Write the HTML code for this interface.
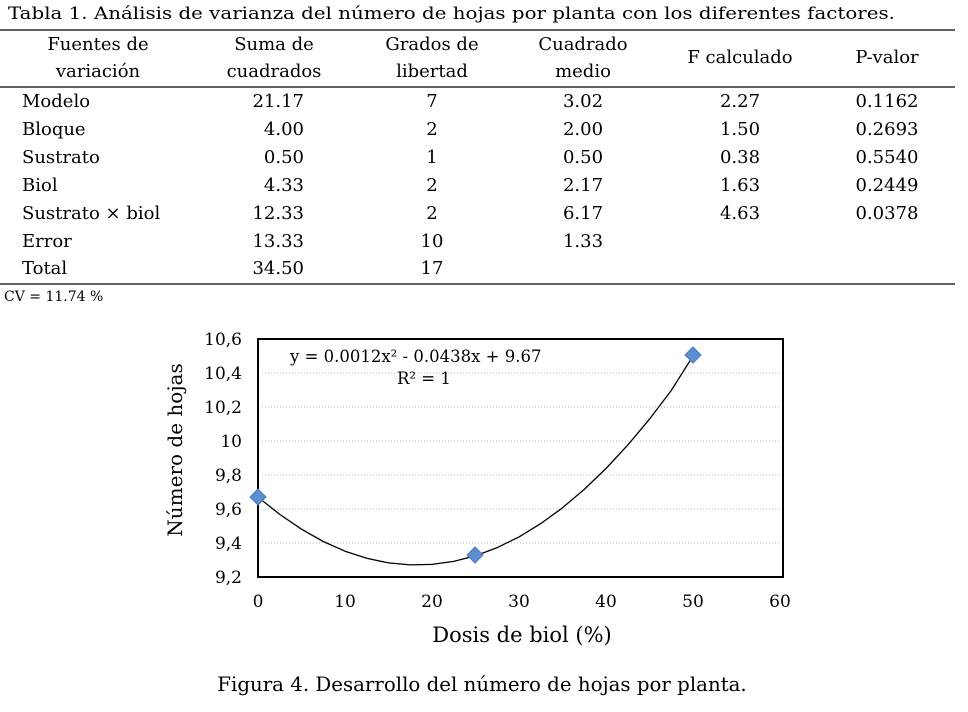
<!DOCTYPE html>
<html><head><meta charset="utf-8"><style>
html,body{margin:0;padding:0;background:#fff;}
svg text{font-family:"DejaVu Serif","Liberation Serif",serif;fill:#000;}
</style></head><body>
<svg width="968" height="707" viewBox="0 0 968 707" xmlns="http://www.w3.org/2000/svg">
<text x="8" y="19" font-size="17" textLength="887" lengthAdjust="spacingAndGlyphs">Tabla 1. Análisis de varianza del número de hojas por planta con los diferentes factores.</text>
<line x1="0" y1="30" x2="955" y2="30" stroke="#000" stroke-width="1.3"/>
<line x1="0" y1="87" x2="955" y2="87" stroke="#000" stroke-width="1.3"/>
<line x1="0" y1="284" x2="955" y2="284" stroke="#000" stroke-width="1.3"/>
<g font-size="18" text-anchor="middle">
<text x="98" y="50">Fuentes de</text><text x="98" y="77">variación</text>
<text x="274" y="50">Suma de</text><text x="274" y="77">cuadrados</text>
<text x="432" y="50">Grados de</text><text x="432" y="77">libertad</text>
<text x="583" y="50">Cuadrado</text><text x="583" y="77">medio</text>
<text x="740" y="63">F calculado</text>
<text x="887" y="63">P-valor</text>
</g>
<g font-size="18">
<text x="22" y="107">Modelo</text><text x="22" y="135">Bloque</text><text x="22" y="163">Sustrato</text>
<text x="22" y="191">Biol</text><text x="22" y="219">Sustrato × biol</text><text x="22" y="247">Error</text><text x="22" y="274">Total</text>
</g>
<g font-size="18" text-anchor="end">
<text x="304" y="107">21.17</text><text x="304" y="135">4.00</text><text x="304" y="163">0.50</text>
<text x="304" y="191">4.33</text><text x="304" y="219">12.33</text><text x="304" y="247">13.33</text><text x="304" y="274">34.50</text>
</g>
<g font-size="18" text-anchor="middle">
<text x="432" y="107">7</text><text x="432" y="135">2</text><text x="432" y="163">1</text><text x="432" y="191">2</text><text x="432" y="219">2</text><text x="432" y="247">10</text><text x="432" y="274">17</text>
<text x="583" y="107">3.02</text><text x="583" y="135">2.00</text><text x="583" y="163">0.50</text><text x="583" y="191">2.17</text><text x="583" y="219">6.17</text><text x="583" y="247">1.33</text>
<text x="740" y="107">2.27</text><text x="740" y="135">1.50</text><text x="740" y="163">0.38</text><text x="740" y="191">1.63</text><text x="740" y="219">4.63</text>
<text x="887" y="107">0.1162</text><text x="887" y="135">0.2693</text><text x="887" y="163">0.5540</text><text x="887" y="191">0.2449</text><text x="887" y="219">0.0378</text>
</g>
<text x="4" y="301" font-size="14">CV = 11.74 %</text>

<g stroke="#bbb" stroke-width="1" stroke-dasharray="1,2">
<line x1="262" y1="373" x2="780" y2="373"/><line x1="262" y1="407" x2="780" y2="407"/>
<line x1="262" y1="441" x2="780" y2="441"/><line x1="262" y1="475" x2="780" y2="475"/>
<line x1="262" y1="509" x2="780" y2="509"/><line x1="262" y1="543" x2="780" y2="543"/>
</g>
<rect x="258" y="339" width="525" height="238" fill="none" stroke="#000" stroke-width="2"/>
<g font-size="17" text-anchor="end">
<text x="242" y="345">10,6</text><text x="242" y="379">10,4</text><text x="242" y="413">10,2</text>
<text x="242" y="447">10</text><text x="242" y="481">9,8</text><text x="242" y="515">9,6</text>
<text x="242" y="549">9,4</text><text x="242" y="583">9,2</text>
</g>
<g font-size="17" text-anchor="middle">
<text x="258" y="607">0</text><text x="345" y="607">10</text><text x="432" y="607">20</text>
<text x="519" y="607">30</text><text x="606" y="607">40</text><text x="693" y="607">50</text><text x="780" y="607">60</text>
</g>
<text x="522" y="642" font-size="21" text-anchor="middle">Dosis de biol (%)</text>
<text transform="translate(182,450) rotate(-90)" font-size="20" text-anchor="middle">Número de hojas</text>
<text x="290" y="362" font-size="16.5">y = 0.0012x² - 0.0438x + 9.67</text>
<text x="397" y="384" font-size="16.5">R² = 1</text>
<path fill="none" stroke="#000" stroke-width="1.3" stroke-linejoin="round" d="M258,497.1 L279.75,514.4 L301.5,529.2 L323.25,541.5 L345,551.2 L366.75,558.3 L388.5,562.9 L410.25,564.9 L432,564.4 L453.75,561.4 L475.5,555.75 L497.25,547.6 L519,536.9 L540.75,523.6 L562.5,507.8 L584.25,489.4 L606,468.5 L627.75,445.1 L649.5,419.1 L671.25,390.5 L693,356"/>
<g fill="#5b8fd0" stroke="#4a7ab8" stroke-width="1">
<path d="M258,489 L266,497 L258,505 L250,497 Z"/>
<path d="M475,547 L483,555 L475,563 L467,555 Z"/>
<path d="M693,347 L701,355 L693,363 L685,355 Z"/>
</g>
<text x="482" y="691" font-size="19.8" text-anchor="middle">Figura 4. Desarrollo del número de hojas por planta.</text>
</svg>
</body></html>
